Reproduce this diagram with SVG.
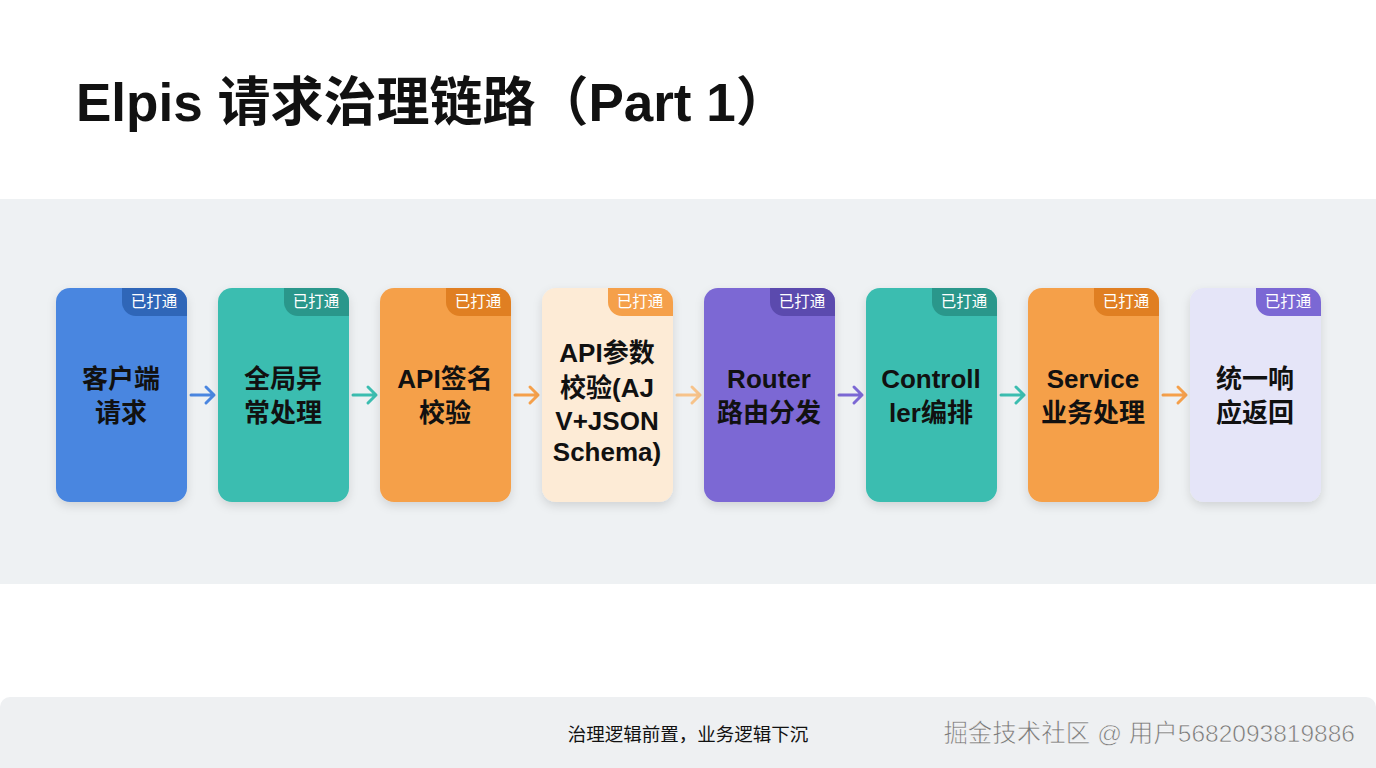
<svg xmlns="http://www.w3.org/2000/svg" width="1376" height="768" viewBox="0 0 1376 768">
<defs>
<filter id="sh" x="-20%" y="-20%" width="140%" height="140%"><feDropShadow dx="0" dy="4" stdDeviation="5" flood-color="#000" flood-opacity="0.12"/></filter>
<style>
text{font-family:"Liberation Sans","Noto Sans CJK SC",sans-serif}
.t{font-size:26px;font-weight:bold;fill:#111;text-anchor:middle}
.b{font-size:15.5px;fill:#fff;text-anchor:middle}
.a{stroke-width:3;fill:none;stroke-linecap:round;stroke-linejoin:round}
</style>
</defs>
<rect width="1376" height="768" fill="#fff"/>
<text x="76" y="121" font-size="53" font-weight="bold" fill="#111">Elpis 请求治理链路（Part 1）</text>
<rect x="0" y="199" width="1376" height="385" fill="#eef1f3"/>
<g id="connectors">
<path class="a" d="M191,395 H214 M206,387 L214,395 L206,403" stroke="#4a86e0"/>
<path class="a" d="M353,395 H376 M368,387 L376,395 L368,403" stroke="#3bbdb0"/>
<path class="a" d="M515,395 H538 M530,387 L538,395 L530,403" stroke="#f5a04a"/>
<path class="a" d="M677,395 H700 M692,387 L700,395 L692,403" stroke="#f7c38a"/>
<path class="a" d="M839,395 H862 M854,387 L862,395 L854,403" stroke="#7b68d4"/>
<path class="a" d="M1001,395 H1024 M1016,387 L1024,395 L1016,403" stroke="#3bbdb0"/>
<path class="a" d="M1163,395 H1186 M1178,387 L1186,395 L1178,403" stroke="#f5a04a"/>
</g>
<g id="n1"><rect x="56" y="288" width="131" height="214" rx="14" fill="#4a86e0" filter="url(#sh)"/><path d="M122,288 H173 A14,14 0 0 1 187,302 V316 H136 A14,14 0 0 1 122,302 Z" fill="#2f66b8"/><text class="b" x="154" y="307">已打通</text><text class="t" x="121" y="388">客户端</text><text class="t" x="121" y="422">请求</text></g>
<g id="n2"><rect x="218" y="288" width="131" height="214" rx="14" fill="#3bbdb0" filter="url(#sh)"/><path d="M284,288 H335 A14,14 0 0 1 349,302 V316 H298 A14,14 0 0 1 284,302 Z" fill="#2a978b"/><text class="b" x="316" y="307">已打通</text><text class="t" x="283" y="388">全局异</text><text class="t" x="283" y="422">常处理</text></g>
<g id="n3"><rect x="380" y="288" width="131" height="214" rx="14" fill="#f5a04a" filter="url(#sh)"/><path d="M446,288 H497 A14,14 0 0 1 511,302 V316 H460 A14,14 0 0 1 446,302 Z" fill="#e07f22"/><text class="b" x="478" y="307">已打通</text><text class="t" x="445" y="388">API签名</text><text class="t" x="445" y="422">校验</text></g>
<g id="n4"><rect x="542" y="288" width="131" height="214" rx="14" fill="#fdebd6" filter="url(#sh)"/><path d="M608,288 H659 A14,14 0 0 1 673,302 V316 H622 A14,14 0 0 1 608,302 Z" fill="#f5a04a"/><text class="b" x="640" y="307">已打通</text><text class="t" x="607" y="362">API参数</text><text class="t" x="607" y="397">校验(AJ</text><text class="t" x="607" y="430" font-size="24">V+JSON</text><text class="t" x="607" y="461" font-size="22">Schema)</text></g>
<g id="n5"><rect x="704" y="288" width="131" height="214" rx="14" fill="#7b68d4" filter="url(#sh)"/><path d="M770,288 H821 A14,14 0 0 1 835,302 V316 H784 A14,14 0 0 1 770,302 Z" fill="#5b4aae"/><text class="b" x="802" y="307">已打通</text><text class="t" x="769" y="388">Router</text><text class="t" x="769" y="422">路由分发</text></g>
<g id="n6"><rect x="866" y="288" width="131" height="214" rx="14" fill="#3bbdb0" filter="url(#sh)"/><path d="M932,288 H983 A14,14 0 0 1 997,302 V316 H946 A14,14 0 0 1 932,302 Z" fill="#2a978b"/><text class="b" x="964" y="307">已打通</text><text class="t" x="931" y="388">Controll</text><text class="t" x="931" y="422">ler编排</text></g>
<g id="n7"><rect x="1028" y="288" width="131" height="214" rx="14" fill="#f5a04a" filter="url(#sh)"/><path d="M1094,288 H1145 A14,14 0 0 1 1159,302 V316 H1108 A14,14 0 0 1 1094,302 Z" fill="#e07f22"/><text class="b" x="1126" y="307">已打通</text><text class="t" x="1093" y="388">Service</text><text class="t" x="1093" y="422">业务处理</text></g>
<g id="n8"><rect x="1190" y="288" width="131" height="214" rx="14" fill="#e5e5f8" filter="url(#sh)"/><path d="M1256,288 H1307 A14,14 0 0 1 1321,302 V316 H1270 A14,14 0 0 1 1256,302 Z" fill="#7b68d4"/><text class="b" x="1288" y="307">已打通</text><text class="t" x="1255" y="388">统一响</text><text class="t" x="1255" y="422">应返回</text></g>
<path d="M0,707 A10,10 0 0 1 10,697 H1366 A10,10 0 0 1 1376,707 V768 H0 Z" fill="#eef0f2"/>
<text x="688" y="741" font-size="18.5" fill="#111" text-anchor="middle">治理逻辑前置，业务逻辑下沉</text>
<text x="1355" y="742" font-size="24.5" fill="#7a7a7a" stroke="#fff" stroke-width="0.5" text-anchor="end">掘金技术社区 @ 用户5682093819886</text>
</svg>
